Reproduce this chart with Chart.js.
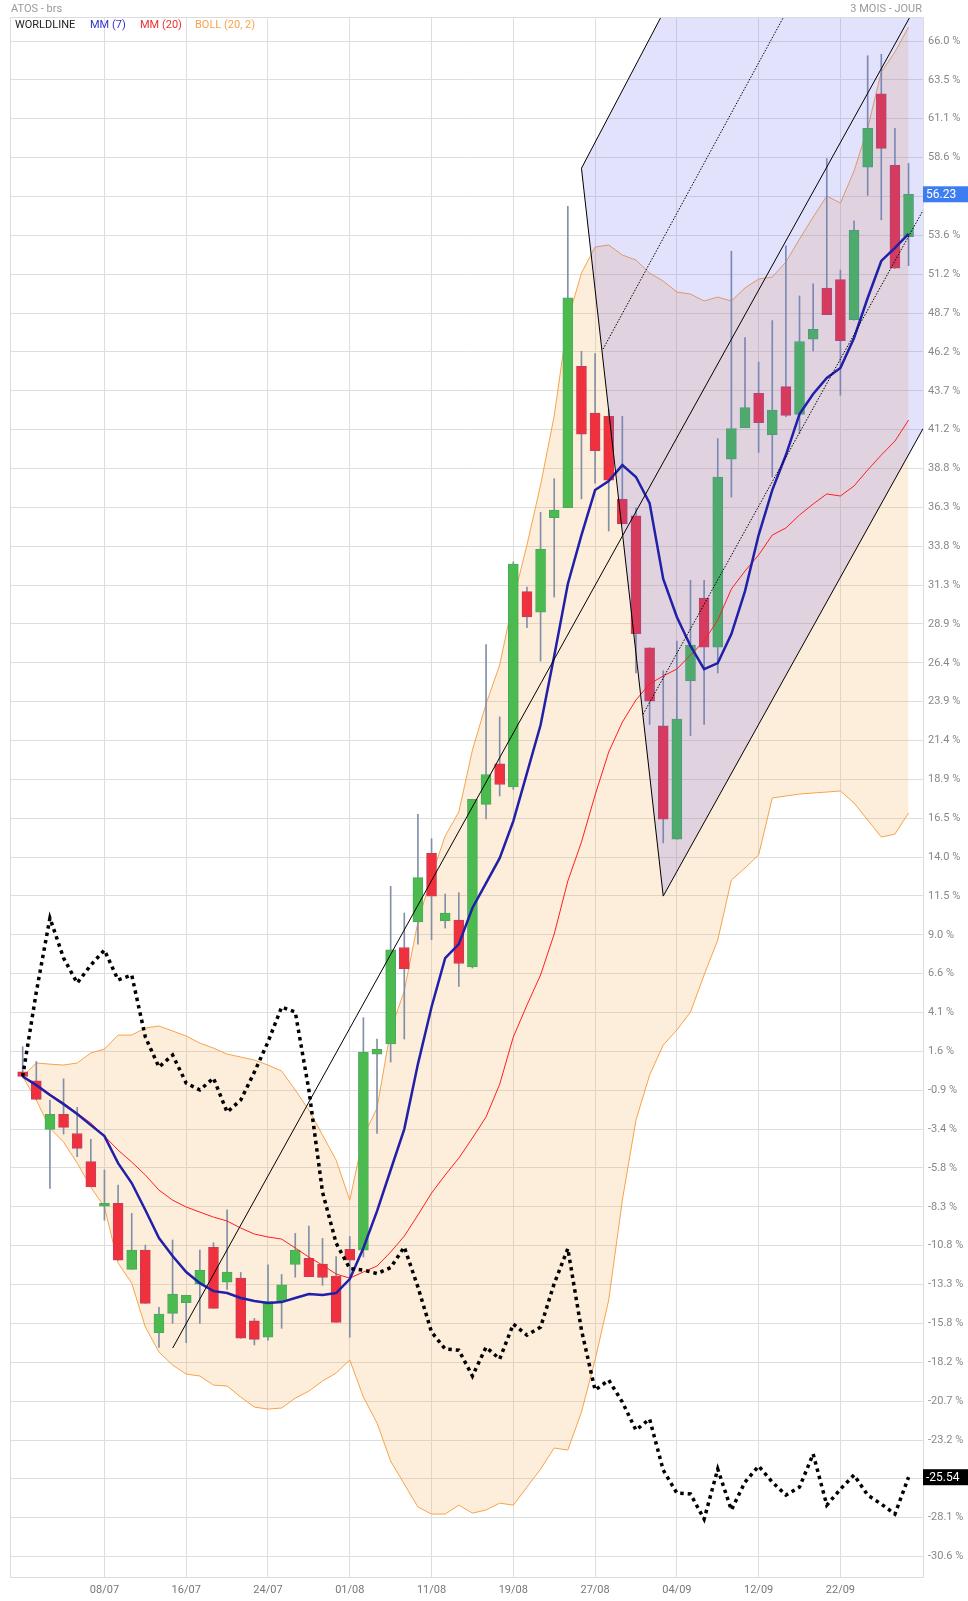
<!DOCTYPE html>
<html><head><meta charset="utf-8">
<script src="https://cdn.jsdelivr.net/npm/chart.js@4.4.1/dist/chart.umd.min.js"></script>
<style>
body{margin:0;background:#fff;font-family:Roboto,"Open Sans",sans-serif;}
#wrap{position:relative;width:968px;height:1601px;}
.t{position:absolute;font-size:11px;white-space:nowrap;line-height:12px;}
</style></head><body>
<div id="wrap">
<canvas id="c" width="968" height="1601"></canvas>
<div class="t" style="left:11px;top:3px;color:#999">ATOS - brs</div>
<div class="t" style="right:46px;top:3px;color:#999">3 MOIS - JOUR</div>
<div class="t" style="left:15px;top:19px;color:#222">WORLDLINE</div>
<div class="t" style="left:90px;top:19px;color:#3333cc">MM (7)</div>
<div class="t" style="left:140px;top:19px;color:#e83030">MM (20)</div>
<div class="t" style="left:195px;top:19px;color:#f7a34a">BOLL (20, 2)</div>
</div>
<script>
const xTickIdx = [6,12,18,24,30,36,42,48,54,60];
const xTickLabels = ['08/07','16/07','24/07','01/08','11/08','19/08','27/08','04/09','12/09','22/09'];
const yTickLabels = ['66.0','63.5','61.1','58.6','56.1','53.6','51.2','48.7','46.2','43.7','41.2','38.8','36.3','33.8','31.3','28.9','26.4','23.9','21.4','18.9','16.5','14.0','11.5','9.0','6.6','4.1','1.6','-0.9','-3.4','-5.8','-8.3','-10.8','-13.3','-15.8','-18.2','-20.7','-23.2','-25.7','-28.1','-30.6'];

const open  = [0.3,-0.27,-3.37,-2.41,-3.63,-5.43,-8.26,-8.09,-12.29,-11.06,-16.33,-15.10,-14.41,-13.23,-10.89,-13.11,-12.85,-15.57,-16.62,-14.29,-11.97,-11.59,-11.95,-12.72,-11.01,-11.07,1.42,2.08,8.22,9.85,14.22,9.91,9.97,6.98,17.35,19.93,18.46,30.9,29.6,35.62,36.25,45.27,42.28,42.08,36.81,35.74,27.33,22.35,15.12,25.23,30.5,27.37,39.35,41.35,43.54,40.91,43.97,42.2,46.99,50.26,50.8,48.24,57.96,62.63,58.08,53.53];
const high  = [1.9,0.96,-1.50,-0.15,-1.97,-4.0,-5.96,-6.92,-8.72,-10.74,-14.71,-10.42,-13.94,-11.06,-10.6,-8.5,-12.49,-15.42,-12.0,-12.62,-10.0,-9.53,-10.32,-11.47,-10.2,3.75,2.39,12.12,10.42,16.71,15.16,11.63,11.72,17.67,27.53,22.92,32.8,31.2,35.96,38.1,55.46,46.22,46.07,42.51,42.08,36.25,27.33,25.86,27.76,31.63,31.63,40.66,52.6,47.1,45.53,48.18,52.94,49.75,50.52,58.5,51.4,54.54,65.06,65.15,60.44,58.2];
const low   = [0.0,-1.46,-7.13,-3.67,-5.11,-7.03,-9.16,-11.7,-12.29,-14.46,-17.26,-15.73,-16.97,-15.73,-14.78,-13.57,-16.68,-17.11,-16.8,-16.05,-12.79,-12.76,-13.31,-15.67,-16.62,-11.5,-3.62,0.92,2.39,8.43,8.72,9.46,5.74,6.91,16.42,17.88,18.3,28.6,26.48,30.56,36.25,36.81,37.82,34.77,35.22,25.72,22.44,14.89,15.12,21.73,22.44,25.72,36.93,41.35,39.78,38.21,42.06,40.98,46.25,48.55,43.42,48.2,56.16,54.6,51.5,51.68];
const close = [0.0,-1.46,-2.41,-3.24,-4.58,-7.03,-8.09,-11.7,-11.06,-14.46,-15.14,-13.87,-13.94,-12.34,-14.78,-12.47,-16.68,-16.75,-14.35,-13.27,-11.06,-12.76,-12.81,-15.67,-11.7,1.56,1.74,8.08,6.85,12.68,11.5,10.42,7.20,17.67,19.25,18.61,32.66,29.3,33.6,36.11,49.63,40.94,39.89,38.01,35.22,28.22,23.92,16.40,22.78,27.5,27.37,38.2,41.29,42.63,41.68,42.48,42.14,46.85,47.63,48.55,46.9,53.94,60.44,59.16,51.52,56.23];

const mm7 = [0,-0.55,-1.18,-1.76,-2.39,-3.10,-3.80,-5.52,-6.79,-8.51,-10.30,-11.44,-12.46,-13.17,-13.68,-13.80,-14.12,-14.31,-14.44,-14.38,-14.12,-13.87,-13.93,-13.80,-12.91,-10.93,-8.58,-5.96,-3.35,0.79,4.43,7.55,8.44,10.74,12.33,13.92,16.28,19.34,22.40,26.80,31.39,34.51,37.38,37.95,38.97,38.21,36.55,31.71,29.29,27.44,25.97,26.35,28.20,30.94,34.51,37.38,39.61,42.22,43.50,44.52,45.16,47.07,49.62,51.98,52.81,53.70];
const mm20 = [0,-0.49,-1.12,-1.69,-2.33,-2.97,-3.80,-4.69,-5.45,-6.28,-7.24,-7.88,-8.32,-8.64,-8.96,-9.21,-9.66,-10.04,-10.23,-10.36,-10.93,-11.51,-12.02,-12.59,-12.85,-12.46,-12.08,-11.19,-10.17,-8.83,-7.43,-6.28,-5.20,-3.92,-2.58,-0.49,2.52,4.55,6.47,9.08,12.46,14.94,17.94,20.68,22.59,24.00,25.02,25.53,25.97,26.86,27.76,29.09,31.07,32.22,33.24,34.51,34.96,35.79,36.49,37.13,37.00,37.64,38.66,39.61,40.50,41.84];
const bollUp = [0,0.86,0.79,0.73,0.86,1.50,1.75,2.64,2.64,3.09,3.22,2.90,2.58,2.13,1.81,1.43,1.24,1.05,0.73,0.35,-0.86,-2.14,-3.73,-5.33,-7.88,-3.80,-2.01,2.96,5.45,9.85,12.78,15.33,16.86,20.81,23.74,26.23,30.37,33.88,37.70,42.10,48.22,51.21,52.87,53.00,52.36,52.04,51.21,50.70,50.00,49.87,49.43,49.68,49.43,50.26,50.83,50.96,51.91,53.38,54.78,56.12,55.67,57.71,60.45,64.02,65.30,66.89];
const bollLow = [0,-1.50,-3.29,-4.18,-5.52,-7.05,-8.32,-11.89,-13.17,-15.97,-17.56,-18.39,-18.97,-19.09,-19.67,-19.73,-20.43,-21.07,-21.20,-21.13,-20.50,-20.05,-19.41,-18.90,-18.07,-20.43,-22.09,-24.51,-25.98,-27.44,-27.89,-27.89,-27.32,-27.83,-27.63,-27.19,-27.32,-26.17,-25.02,-23.68,-23.81,-21.39,-18.07,-14.25,-7.88,-2.78,0.09,2.00,2.96,4.11,6.47,8.70,12.52,13.29,14.12,17.75,17.88,18.00,18.07,18.13,18.20,17.43,16.35,15.26,15.45,16.79];
const worldline = [0,5.38,10.10,7.55,5.96,7.10,8.06,6.15,6.47,2.52,0.60,1.37,-0.42,-0.86,-0.10,-2.27,-1.50,0.28,2.20,4.43,4.11,-0.86,-7.37,-10.62,-12.24,-12.34,-12.56,-12.18,-10.87,-13.42,-16.29,-17.37,-17.44,-19.09,-17.25,-18.01,-15.78,-16.48,-15.97,-13.20,-10.97,-16.16,-19.99,-19.35,-20.75,-22.54,-21.83,-25.09,-26.55,-26.61,-28.21,-25.02,-27.63,-25.85,-24.83,-25.85,-26.68,-26.17,-24.06,-27.32,-26.30,-25.40,-26.68,-27.25,-27.89,-25.54];

// drawn lines (index, %)
const trendLine = [[11.01,-17.3],[65.1,67.53]];
const pitchA = [41.0,57.89], pitchB = [47.0,11.5];
const pitchUpperEnd = [48.0,69.45];
const pitchLowerEnd = [66.06,41.29];
const dottedUpper = [[42.58,46.36],[57.0,69.4]];
const dottedLower = [[45.52,23.09],[66.06,55.2]];

const X_MIN=-0.93, X_MAX=66.06, Y_MIN=-31.9, Y_MAX=67.53;
const idx = open.map((_,i)=>i);
const pts = a => a.map((v,i)=>({x:i,y:v}));
const P = a => ({x:a[0],y:a[1]});
const up = idx.map(i=>close[i]>=open[i]);
const lineDs = (data,color,w,order,extra) => Object.assign({type:'line',data,borderColor:color,borderWidth:w,pointRadius:0,fill:false,order,tension:0},extra||{});

const valueTags = {
  id:'tags',
  afterDraw(ch){
    const c=ch.ctx, ys=ch.scales.y, ca=ch.chartArea;
    c.save();
    c.strokeStyle='#dcdcdc'; c.lineWidth=1;
    c.strokeRect(ca.left+0.5,ca.top+0.5,ca.right-ca.left,ca.bottom-ca.top);
    [[close[close.length-1],'#3d7df2','56.23'],[worldline[worldline.length-1],'#000','-25.54']].forEach(([v,col,txt])=>{
      const y=ys.getPixelForValue(v);
      c.fillStyle=col; c.fillRect(ca.right,y-8,45,16);
      c.fillStyle='#fff'; c.font='12px Roboto'; c.textBaseline='middle'; c.textAlign='left';
      c.fillText(txt,ca.right+3,y+0.5);
    });
    c.restore();
  }
};

new Chart(document.getElementById('c'),{
  type:'bar',
  data:{datasets:[
    lineDs(pts(bollUp),'#f7a34a',1,20,{fill:'+1',backgroundColor:'rgba(247,163,74,0.2)'}),
    lineDs(pts(bollLow),'#f7a34a',1,20),
    {type:'bar',data:idx.map(i=>({x:i,y:[low[i],high[i]]})),backgroundColor:'#8190a8',barThickness:1,grouped:false,order:15},
    {type:'bar',data:idx.map(i=>({x:i,y:[open[i],close[i]]})),backgroundColor:up.map(u=>u?'#4bbb4f':'#f0303c'),borderColor:up.map(u=>u?'#4aa860':'#c04060'),borderWidth:1,borderSkipped:false,barThickness:10,minBarLength:2,grouped:false,order:14},
    lineDs([P(pitchA),P(pitchUpperEnd),{x:X_MAX,y:pitchUpperEnd[1]},P(pitchLowerEnd),P(pitchB),P(pitchA)],'rgba(0,0,0,0)',0,12,{fill:'shape',backgroundColor:'rgba(100,100,240,0.19)'}),
    lineDs(pts(mm20),'#ff1e1e',1,8),
    lineDs(pts(mm7),'#2020a8',2.5,7),
    lineDs(trendLine.map(P),'#000',1,6),
    lineDs([P(pitchUpperEnd),P(pitchA),P(pitchB),P(pitchLowerEnd)],'#000',1,6),
    lineDs(dottedUpper.map(P),'#000',1,6,{borderDash:[1.5,1.5]}),
    lineDs(dottedLower.map(P),'#000',1,6,{borderDash:[1.5,1.5]}),
    lineDs(pts(worldline),'#000',3.5,5,{borderDash:[3.5,4]}),
  ]},
  options:{
    responsive:false,animation:false,
    layout:{padding:{left:10,top:17,right:0,bottom:0}},
    plugins:{legend:{display:false},tooltip:{enabled:false}},
    scales:{
      x:{type:'linear',min:X_MIN,max:X_MAX,offset:false,
        grid:{color:'#dedede',offset:false,drawTicks:false},border:{color:'#d0d0d0'},
        afterBuildTicks:s=>{s.ticks=xTickIdx.map(v=>({value:v}));},
        afterFit:s=>{s.height=24;},
        ticks:{color:'#777',font:{size:11,family:'Roboto'},padding:7,maxRotation:0,autoSkip:false,
          callback:(v)=>{const k=xTickIdx.indexOf(v);return k>=0?xTickLabels[k]:'';}}},
      y:{type:'linear',position:'right',min:Y_MIN,max:Y_MAX,
        grid:{color:'#dedede',drawTicks:false},border:{display:false},
        afterBuildTicks:s=>{s.ticks=yTickLabels.map((_,k)=>({value:66-k*96.6/39}));},
        afterFit:s=>{s.width=45;},
        ticks:{color:'#888',font:{size:11,family:'Roboto'},padding:5,autoSkip:false,
          callback:(v,i)=>yTickLabels[i]+' %'}}
    }
  },
  plugins:[valueTags]
});
</script></body></html>
